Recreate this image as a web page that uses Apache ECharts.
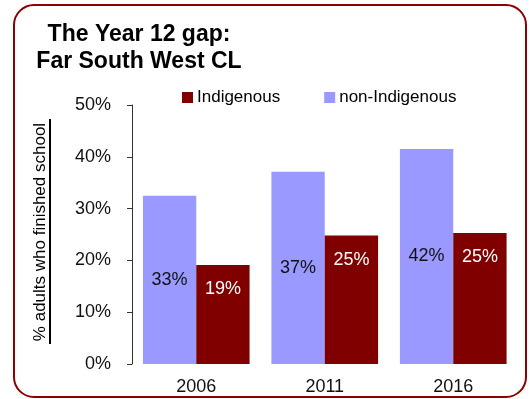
<!DOCTYPE html>
<html>
<head>
<meta charset="utf-8">
<script src="https://cdn.jsdelivr.net/npm/echarts@6/dist/echarts.min.js"></script>
<style>
html,body{margin:0;padding:0;background:#fff;}
#chart{width:532px;height:399px;}
</style>
</head>
<body>
<div id="chart"></div>
<script>
var categories = ['2006', '2011', '2016'];
var nonIndigenous = [32.5, 37.1, 41.5];
var indigenous = [19.1, 24.8, 25.3];
var yTicks = { min: 0, max: 50, interval: 10 };
var titleText = 'The Year 12 gap:\nFar South West CL';
var yName = '% adults who finished school';

var FONT = '"Liberation Sans", Arial, sans-serif';
var chart = echarts.init(document.getElementById('chart'));
chart.setOption({
  animation: false,
  backgroundColor: '#ffffff',
  textStyle: { fontFamily: FONT },
  title: {
    text: titleText,
    left: 139,
    top: 21,
    padding: 0,
    textAlign: 'center',
    textStyle: { fontFamily: FONT, fontSize: 23, fontWeight: 'bold', color: '#000', lineHeight: 27 }
  },
  legend: {
    data: ['Indigenous', 'non-Indigenous'],
    left: 182,
    top: 89,
    padding: 0,
    icon: 'rect',
    itemWidth: 11,
    itemHeight: 11,
    itemGap: 44,
    textStyle: { fontFamily: FONT, fontSize: 17, color: '#000', padding: [0, 0, 0, -1] }
  },
  grid: { left: 132, right: 14.5, top: 105, bottom: 35, containLabel: false },
  xAxis: {
    type: 'category',
    data: categories,
    axisLine: { show: false },
    axisTick: { show: false },
    axisLabel: { fontFamily: FONT, fontSize: 18, color: '#111', margin: 14 }
  },
  yAxis: {
    type: 'value',
    min: yTicks.min,
    max: yTicks.max,
    interval: yTicks.interval,
    splitLine: { show: false },
    axisLine: { show: true, lineStyle: { color: '#333', width: 1 } },
    axisTick: { show: true, length: 5, lineStyle: { color: '#333' } },
    axisLabel: { fontFamily: FONT, fontSize: 18, color: '#111', margin: 21, formatter: '{value}%' }
  },
  series: [
    {
      name: 'non-Indigenous',
      type: 'bar',
      data: nonIndigenous,
      barGap: '0%',
      barCategoryGap: '17%',
      itemStyle: { color: '#9999ff' },
      label: {
        show: true, position: 'inside', fontFamily: FONT, fontSize: 18, color: '#111',
        formatter: function (p) { return Math.round(p.value) + '%'; }
      }
    },
    {
      name: 'Indigenous',
      type: 'bar',
      data: indigenous,
      barGap: '0%',
      barCategoryGap: '17%',
      itemStyle: { color: '#800000' },
      label: {
        show: true, position: 'insideTop', distance: 15, fontFamily: FONT, fontSize: 18, color: '#fff',
        formatter: function (p) { return Math.round(p.value) + '%'; }
      }
    }
  ],
  graphic: [
    {
      type: 'rect',
      shape: { x: 14, y: 5, width: 512, height: 392, r: 20 },
      style: { fill: 'none', stroke: '#8b0000', lineWidth: 2 },
      silent: true
    },
    {
      type: 'text',
      x: 40, y: 232,
      rotation: Math.PI / 2,
      style: {
        text: yName, fontFamily: FONT, fontSize: 17, fill: '#000',
        align: 'center', verticalAlign: 'middle'
      },
      silent: true
    },
    {
      type: 'line',
      shape: { x1: 50, y1: 119, x2: 50, y2: 344 },
      style: { stroke: '#000', lineWidth: 2 },
      silent: true
    }
  ]
});
</script>
</body>
</html>
